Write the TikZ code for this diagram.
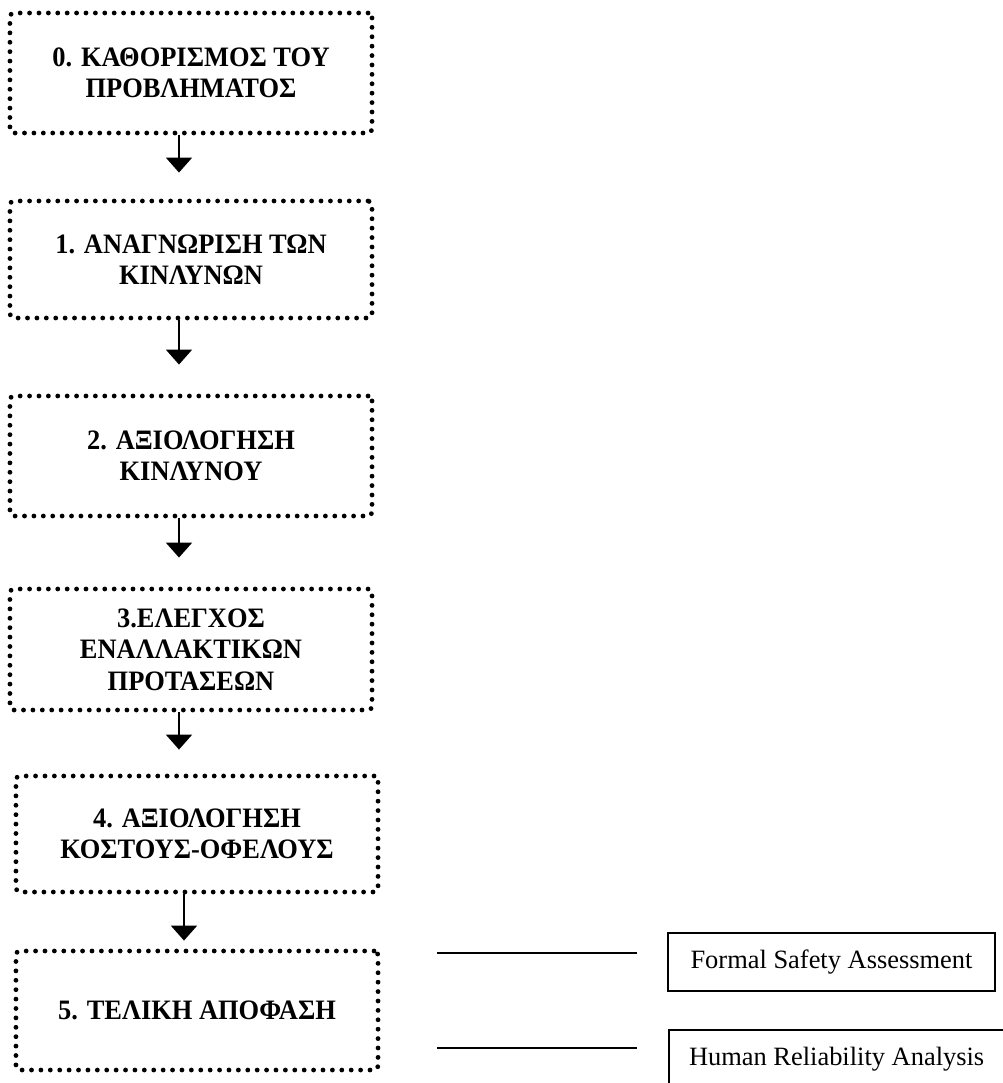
\documentclass[tikz,border=0pt]{standalone}
\usepackage{fontspec}
\setmainfont{Liberation Serif}
\newfontfamily\stagefont[FakeStretch=0.94]{Liberation Serif}
\usetikzlibrary{arrows.meta,calc,positioning}
\tikzset{
  % Stadia FSA
  stage/.style={draw,rectangle,rounded corners=0.1cm,line width=0.12cm,dash pattern=on 0pt off 0.235cm,line cap=round,minimum width=9.05cm,align=center,font=\stagefont\fontsize{20}{22.3}\selectfont\bfseries},
  % Plaisia dexia
  infobox/.style={draw,rectangle,line width=0.05cm,minimum height=1.45cm,inner xsep=0.5cm,font=\fontsize{18.8}{22}\selectfont},
  % Velh
  flow/.style={-{Triangle[width=0.65cm,length=0.375cm]},line width=0.05cm},
  legline/.style={line width=0.055cm},
}
\begin{document}
\begin{tikzpicture}[x=0.025cm,y=-0.025cm]
  \clip (0,0) rectangle (1003,1083);
  \node[stage,minimum height=3cm]     (b0) at (191,73)    {0. ΚΑΘΟΡΙΣΜΟΣ ΤΟΥ\\ΠΡΟΒΛΗΜΑΤΟΣ};
  \node[stage,minimum height=2.925cm] (b1) at (191,259.5) {1. ΑΝΑΓΝΩΡΙΣΗ ΤΩΝ\\ΚΙΝΛΥΝΩΝ};
  \node[stage,minimum height=3cm]     (b2) at (191,456)   {2. ΑΞΙΟΛΟΓΗΣΗ\\ΚΙΝΛΥΝΟΥ};
  \node[stage,minimum height=3.025cm] (b3) at (191,649.5) {3.ΕΛΕΓΧΟΣ\\ΕΝΑΛΛΑΚΤΙΚΩΝ\\ΠΡΟΤΑΣΕΩΝ};
  \node[stage,minimum height=2.9cm]   (b4) at (197,834)   {4. ΑΞΙΟΛΟΓΗΣΗ\\ΚΟΣΤΟΥΣ-ΟΦΕΛΟΥΣ};
  \node[stage,minimum height=2.975cm] (b5) at (197,1010.5) {5. ΤΕΛΙΚΗ ΑΠΟΦΑΣΗ};

  \draw[flow,shorten >=0.65cm]  ([xshift=-0.3cm]b0.south) -- ([xshift=-0.3cm]b1.north);
  \draw[flow,shorten >=0.725cm] ([xshift=-0.3cm]b1.south) -- ([xshift=-0.3cm]b2.north);
  \draw[flow,shorten >=0.725cm] ([xshift=-0.3cm]b2.south) -- ([xshift=-0.3cm]b3.north);
  \draw[flow,shorten >=0.6cm]   ([xshift=-0.3cm]b3.south) -- ([xshift=-0.3cm]b3.south |- b4.north);
  \draw[flow,shorten >=0.2cm]   ([xshift=-0.325cm]b4.south) -- ([xshift=-0.325cm]b5.north);

  \node[infobox,minimum width=8.175cm] (fsa) at (831.5,962) {Formal Safety Assessment};
  \node[infobox,anchor=north west]     (hra) at (668,1029)  {Human Reliability Analysis};

  \coordinate (l1a) at (437,953);  \coordinate (l1b) at (637,953);
  \coordinate (l2a) at (437,1048); \coordinate (l2b) at (637,1048);
  \draw[legline] (l1a) -- (l1b);
  \draw[legline] (l2a) -- (l2b);
\end{tikzpicture}
\end{document}
